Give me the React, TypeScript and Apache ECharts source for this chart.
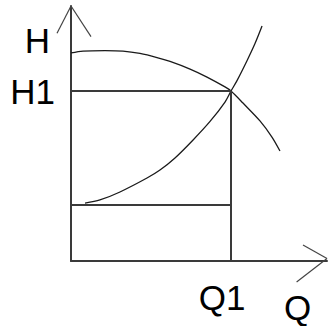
import React, { useEffect, useRef } from "react";
import * as echarts from "echarts";

// Pump curve (falling): flow Q vs head H
const pumpQ = [0, 7.5, 21.25, 32.5, 43.1, 53.75, 61.9, 74.4, 85, 96.25, 100, 107.5, 118.1, 125.6, 130.6];
const pumpH = [122.4, 123.5, 123.8, 123.5, 122.1, 119.7, 117.4, 112.9, 108.2, 102.4, 100, 92.9, 82.4, 72.9, 64.7];

// System curve (rising)
const systemQ = [8.75, 18.1, 30.6, 47.5, 55.6, 65, 76.3, 86.9, 96.25, 100, 103.75, 110, 115, 119.4];
const systemH = [34.1, 35.9, 40.6, 48.8, 53.5, 60.6, 71.2, 82.1, 93.5, 100, 106.1, 117.8, 127.9, 138.2];

// Operating point and static head
const Q1 = 100;
const H1 = 100;
const staticH = 33;

// Axis extents
const qMax = 160;
const hMax = 150;

// Arrow heads (open chevrons) in data units: [apexQ, apexH, endQ, endH]
const arrowArms = [
  [0, 150, -8.75, 134],
  [0, 150, 12.5, 132],
  [160, 1.5, 145, 9.4],
  [160, 1.5, 141, -12.4],
];

// Texts
const yTickLabel = "H1";
const xTickLabel = "Q1";
const yName = "H";
const xName = "Q";

const FONT = "'Liberation Sans', Arial, sans-serif";

const zip = (a: number[], b: number[]) => a.map((v, i) => [v, b[i]]);

export default function App() {
  const ref = useRef<HTMLDivElement>(null);
  useEffect(() => {
    document.body.style.margin = "0";
    const chart = echarts.init(ref.current!, undefined, { renderer: "svg" });
    const thinLine = (data: number[][], color: string, width: number, smooth: number | boolean = false) => ({
      type: "line",
      data,
      showSymbol: false,
      symbol: "none",
      clip: false,
      smooth,
      silent: true,
      lineStyle: { color, width },
    });
    chart.setOption({
      animation: false,
      backgroundColor: "#ffffff",
      grid: { left: 71, top: 6, width: 256, height: 255, containLabel: false, outerBoundsMode: "none" },
      xAxis: {
        type: "value",
        min: 0,
        max: qMax,
        interval: Q1,
        name: xName,
        nameLocation: "end",
        nameGap: -29.5,
        nameTextStyle: {
          fontFamily: FONT,
          fontSize: 35,
          color: "#000",
          align: "center",
          verticalAlign: "top",
          lineHeight: 93,
        },
        axisLine: { show: true, lineStyle: { color: "#3a3a3a", width: 2 } },
        axisTick: { show: false },
        splitLine: { show: false },
        axisLabel: {
          formatter: (v: number) => (v === Q1 ? xTickLabel : ""),
          fontFamily: FONT,
          fontSize: 35,
          color: "#000",
          margin: 19,
          lineHeight: 35,
          padding: [0, 18, 0, 0],
        },
      },
      yAxis: {
        type: "value",
        min: 0,
        max: hMax,
        interval: H1,
        name: yName,
        nameLocation: "end",
        nameGap: -34,
        nameTextStyle: {
          fontFamily: FONT,
          fontSize: 35,
          color: "#000",
          align: "right",
          verticalAlign: "middle",
          lineHeight: 35,
          padding: [0, 21, 0, 0],
        },
        axisLine: { show: true, lineStyle: { color: "#3a3a3a", width: 2 } },
        axisTick: { show: false },
        splitLine: { show: false },
        axisLabel: {
          formatter: (v: number) => (v === H1 ? yTickLabel : ""),
          fontFamily: FONT,
          fontSize: 35,
          color: "#000",
          margin: 16,
          lineHeight: 35,
          padding: [6, 0, 0, 0],
        },
      },
      series: [
        thinLine(zip(pumpQ, pumpH), "#1a1a1a", 1.3, 0.3),
        thinLine(zip(systemQ, systemH), "#1a1a1a", 1.3, 0.3),
        thinLine([[0, H1], [Q1, H1]], "#3a3a3a", 2),
        thinLine([[0, staticH], [Q1, staticH]], "#3a3a3a", 2),
        thinLine([[Q1, 0], [Q1, H1]], "#3a3a3a", 2),
        {
          type: "custom",
          clip: false,
          silent: true,
          data: arrowArms,
          encode: { x: [0, 2], y: [1, 3] },
          renderItem: (_params: any, api: any) => {
            const a = api.coord([api.value(0), api.value(1)]);
            const b = api.coord([api.value(2), api.value(3)]);
            return {
              type: "line",
              shape: { x1: a[0], y1: a[1], x2: b[0], y2: b[1] },
              style: { stroke: "#444", lineWidth: 1.2, fill: null },
            };
          },
        },
      ],
    });
    return () => chart.dispose();
  }, []);
  return <div ref={ref} style={{ position: "fixed", left: 0, top: 0, width: 328, height: 326 }} />;
}
